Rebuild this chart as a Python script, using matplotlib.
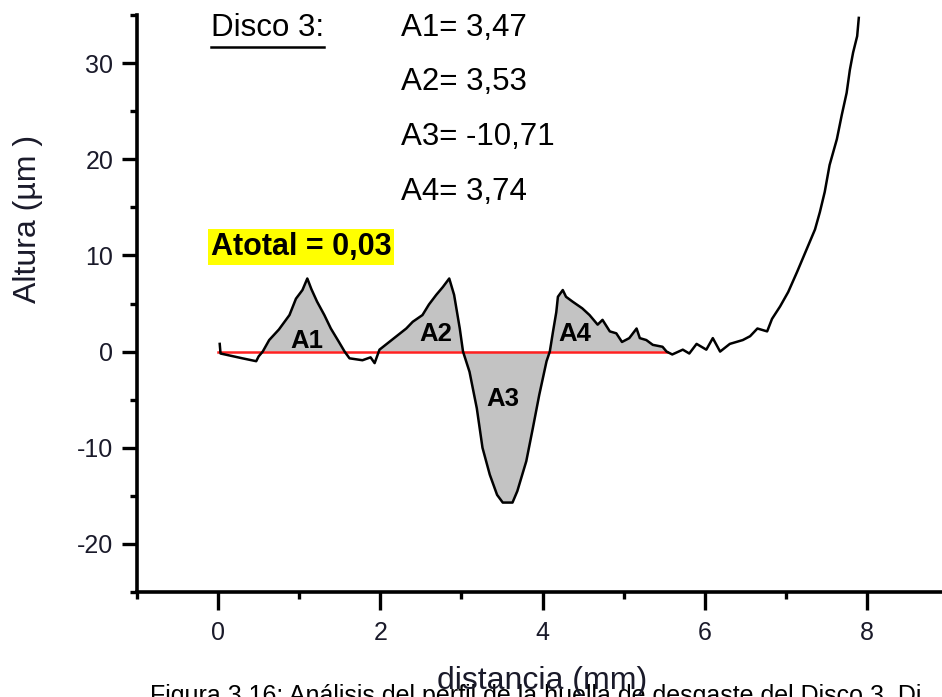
import numpy as np
import matplotlib
matplotlib.use("Agg")
import matplotlib.pyplot as plt
from matplotlib import font_manager
from matplotlib.lines import Line2D
from matplotlib.ticker import MultipleLocator

# Surface profile of disc 3 (distance in mm, height in µm)
distancia = [0.02, 0.03, 0.30, 0.47, 0.50, 0.55, 0.63, 0.75, 0.88, 0.96, 1.04, 1.10,
             1.15, 1.22, 1.31, 1.39, 1.49, 1.56, 1.62, 1.78, 1.88, 1.93, 1.99, 2.11,
             2.23, 2.32, 2.40, 2.52, 2.60, 2.69, 2.77, 2.85, 2.91, 2.98, 3.02, 3.10,
             3.19, 3.26, 3.35, 3.44, 3.51, 3.63, 3.69, 3.80, 3.88, 3.96, 4.05, 4.09,
             4.13, 4.17, 4.19, 4.25, 4.29, 4.37, 4.49, 4.58, 4.68, 4.74, 4.83, 4.91,
             4.98, 5.07, 5.16, 5.20, 5.28, 5.36, 5.48, 5.53, 5.60, 5.73, 5.81, 5.90,
             6.02, 6.10, 6.19, 6.31, 6.47, 6.56, 6.65, 6.77, 6.83, 6.93, 7.03, 7.14,
             7.26, 7.36, 7.42, 7.48, 7.54, 7.63, 7.69, 7.75, 7.79, 7.83, 7.88, 7.90]
altura = [0.8, -0.2, -0.7, -1.0, -0.5, 0.0, 1.2, 2.3, 3.8, 5.5, 6.4, 7.6,
          6.5, 5.2, 3.8, 2.4, 1.0, 0.0, -0.7, -0.9, -0.6, -1.2, 0.2, 1.0,
          1.8, 2.4, 3.1, 3.8, 4.9, 5.9, 6.7, 7.6, 5.9, 2.4, 0.0, -2.1,
          -5.9, -10.0, -12.8, -14.9, -15.7, -15.7, -14.5, -11.4, -8.0, -4.5, -1.0, 0.0,
          2.1, 4.1, 5.7, 6.4, 5.7, 5.2, 4.5, 3.8, 2.8, 3.3, 2.1, 1.9,
          1.0, 1.4, 2.4, 1.4, 1.2, 0.7, 0.5, 0.0, -0.3, 0.2, -0.2, 0.8,
          0.2, 1.4, 0.0, 0.8, 1.2, 1.6, 2.4, 2.1, 3.4, 4.7, 6.2, 8.3,
          10.7, 12.7, 14.5, 16.6, 19.4, 22.1, 24.6, 26.9, 29.3, 31.1, 32.8, 34.7]

# Integration intervals (mm) for the shaded areas and the baseline
tramos_area = [(0.55, 1.56), (1.99, 5.53)]
linea_base = [0.0, 5.53]

areas_nombres = ["A1", "A2", "A3", "A4"]
areas_valores = ["3,47", "3,53", "-10,71", "3,74"]
areas_pos_x = [1.09, 2.69, 3.51, 4.40]
areas_pos_y = [1.1, 1.8, -4.9, 1.8]
area_total = "0,03"

x_ticks = [0, 2, 4, 6, 8]
y_ticks = [-20, -10, 0, 10, 20, 30]

installed = {f.name for f in font_manager.fontManager.ttflist}
base_font = "Liberation Sans" if "Liberation Sans" in installed else "DejaVu Sans"
plt.rcParams["font.family"] = [base_font, "DejaVu Sans"]
plt.rcParams["axes.unicode_minus"] = False

W, H = 942, 697
fig = plt.figure(figsize=(W / 100, H / 100), dpi=100)
ax_left, ax_right, ax_top, ax_bottom = 137, 948, 15, 592
ax = fig.add_axes([ax_left / W, (H - ax_bottom) / H,
                   (ax_right - ax_left) / W, (ax_bottom - ax_top) / H])

x = np.array(distancia)
y = np.array(altura)
mask = np.zeros_like(x, dtype=bool)
for a, b in tramos_area:
    mask |= (x >= a) & (x <= b)
ax.fill_between(x, y, 0, where=mask, color="#c3c3c3", linewidth=0, zorder=1)
ax.plot(x, y, color="black", linewidth=1.8, zorder=3)
ax.plot(linea_base, [0, 0], color="#ff2020", linewidth=1.8, zorder=2)

ax.set_xlim(-1, 9)
ax.set_ylim(-25, 35)
ax.set_xticks(x_ticks)
ax.set_yticks(y_ticks)
ax.xaxis.set_minor_locator(MultipleLocator(1))
ax.yaxis.set_minor_locator(MultipleLocator(5))

for side in ("top", "right"):
    ax.spines[side].set_visible(False)
for side in ("left", "bottom"):
    ax.spines[side].set_linewidth(2.6)
ax.tick_params(which="major", direction="out", width=2.4, colors="black",
               labelcolor="#1a1a2a", labelsize=18)
ax.tick_params(axis="x", which="major", length=13, pad=8)
ax.tick_params(axis="y", which="major", length=11, pad=6)
ax.tick_params(which="minor", direction="out", length=5, width=2.4, colors="black")

# Area labels on the profile
for name, px, py in zip(areas_nombres, areas_pos_x, areas_pos_y):
    ax.text(px, py, name, fontsize=18.5, fontweight="bold", ha="center", va="center",
            zorder=4)

# Values block
disco = ax.text(-0.09, 32.85, "Disco 3:", fontsize=22.5, va="baseline", ha="left")
row_y = [32.85, 27.15, 21.45, 15.75]
for name, val, ry in zip(areas_nombres, areas_valores, row_y):
    ax.text(2.26, ry, f"{name}= {val}", fontsize=22.5, va="baseline", ha="left")
ax.text(-0.09, 10.05, f"Atotal = {area_total}", fontsize=22, fontweight="bold",
        va="baseline", ha="left",
        bbox=dict(boxstyle="square,pad=0.1", facecolor="#ffff00", edgecolor="none"))

# Axis titles
fig.text(28 / W, 1 - 219 / H, "Altura (µm )", rotation=90, fontsize=23,
         ha="center", va="center", color="#1a1a2a")
fig.text(542 / W, 1 - 681 / H, "distancia (mm)", fontsize=23,
         ha="center", va="center", color="#1a1a2a")

# Figure caption running below the plot
fig.text(150 / W, -6 / H,
         "Figura 3.16: Análisis del perfil de la huella de desgaste del Disco 3. Di",
         fontsize=18, ha="left", va="baseline", color="black", zorder=0)

# Underline for the heading
fig.canvas.draw()
bb = disco.get_window_extent()
uy = bb.y0 - 4
fig.add_artist(Line2D([bb.x0 / W, bb.x1 / W], [uy / H, uy / H],
                      transform=fig.transFigure, color="black", linewidth=1.8))

fig.savefig("out.png", dpi=100)
